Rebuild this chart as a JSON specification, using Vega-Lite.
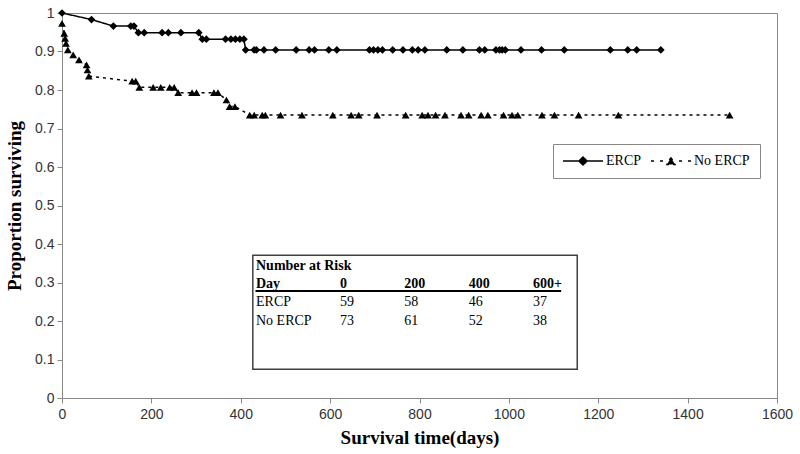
{
  "$schema": "https://vega.github.io/schema/vega-lite/v6.json",
  "width": 715,
  "height": 385,
  "autosize": {"type": "none"},
  "padding": {"left": 62, "top": 13, "right": 23, "bottom": 56},
  "background": "white",
  "config": {
    "font": "Liberation Sans",
    "view": {"stroke": "#888888", "strokeWidth": 1},
    "axisX": {
      "grid": false,
      "domainColor": "#888888",
      "tickColor": "#888888",
      "tickSize": 5,
      "labelFont": "Liberation Sans",
      "labelFontSize": 14,
      "labelColor": "#333333",
      "labelPadding": 4,
      "labelFlush": false,
      "labelOverlap": false,
      "titleFont": "Liberation Serif",
      "titleFontSize": 19,
      "titleFontWeight": "bold",
      "titleColor": "black",
      "titlePadding": 7
    },
    "axisY": {
      "grid": false,
      "domainColor": "#888888",
      "tickColor": "#888888",
      "tickSize": 5,
      "labelFont": "Liberation Sans",
      "labelFontSize": 14,
      "labelColor": "#333333",
      "labelPadding": 3,
      "labelFlush": false,
      "labelOverlap": false,
      "titleFont": "Liberation Serif",
      "titleFontSize": 19,
      "titleFontWeight": "bold",
      "titleColor": "black",
      "titlePadding": 10
    }
  },
  "datasets": {
    "km": [
      {"group": "ERCP", "day": 0, "surv": 1},
      {"group": "ERCP", "day": 66, "surv": 0.983},
      {"group": "ERCP", "day": 115, "surv": 0.966},
      {"group": "ERCP", "day": 154, "surv": 0.966},
      {"group": "ERCP", "day": 161, "surv": 0.966},
      {"group": "ERCP", "day": 171, "surv": 0.949},
      {"group": "ERCP", "day": 184, "surv": 0.949},
      {"group": "ERCP", "day": 224, "surv": 0.949},
      {"group": "ERCP", "day": 238, "surv": 0.949},
      {"group": "ERCP", "day": 266, "surv": 0.949},
      {"group": "ERCP", "day": 306, "surv": 0.949},
      {"group": "ERCP", "day": 314, "surv": 0.932},
      {"group": "ERCP", "day": 323, "surv": 0.932},
      {"group": "ERCP", "day": 366, "surv": 0.932},
      {"group": "ERCP", "day": 378, "surv": 0.932},
      {"group": "ERCP", "day": 388, "surv": 0.932},
      {"group": "ERCP", "day": 398, "surv": 0.932},
      {"group": "ERCP", "day": 407, "surv": 0.932},
      {"group": "ERCP", "day": 411, "surv": 0.904},
      {"group": "ERCP", "day": 430, "surv": 0.904},
      {"group": "ERCP", "day": 435, "surv": 0.904},
      {"group": "ERCP", "day": 452, "surv": 0.904},
      {"group": "ERCP", "day": 478, "surv": 0.904},
      {"group": "ERCP", "day": 524, "surv": 0.904},
      {"group": "ERCP", "day": 553, "surv": 0.904},
      {"group": "ERCP", "day": 565, "surv": 0.904},
      {"group": "ERCP", "day": 597, "surv": 0.904},
      {"group": "ERCP", "day": 615, "surv": 0.904},
      {"group": "ERCP", "day": 688, "surv": 0.904},
      {"group": "ERCP", "day": 697, "surv": 0.904},
      {"group": "ERCP", "day": 707, "surv": 0.904},
      {"group": "ERCP", "day": 717, "surv": 0.904},
      {"group": "ERCP", "day": 740, "surv": 0.904},
      {"group": "ERCP", "day": 763, "surv": 0.904},
      {"group": "ERCP", "day": 784, "surv": 0.904},
      {"group": "ERCP", "day": 797, "surv": 0.904},
      {"group": "ERCP", "day": 812, "surv": 0.904},
      {"group": "ERCP", "day": 861, "surv": 0.904},
      {"group": "ERCP", "day": 897, "surv": 0.904},
      {"group": "ERCP", "day": 934, "surv": 0.904},
      {"group": "ERCP", "day": 946, "surv": 0.904},
      {"group": "ERCP", "day": 971, "surv": 0.904},
      {"group": "ERCP", "day": 979, "surv": 0.904},
      {"group": "ERCP", "day": 985, "surv": 0.904},
      {"group": "ERCP", "day": 992, "surv": 0.904},
      {"group": "ERCP", "day": 1027, "surv": 0.904},
      {"group": "ERCP", "day": 1073, "surv": 0.904},
      {"group": "ERCP", "day": 1124, "surv": 0.904},
      {"group": "ERCP", "day": 1227, "surv": 0.904},
      {"group": "ERCP", "day": 1266, "surv": 0.904},
      {"group": "ERCP", "day": 1286, "surv": 0.904},
      {"group": "ERCP", "day": 1340, "surv": 0.904},
      {"group": "No ERCP", "day": 0, "surv": 0.973},
      {"group": "No ERCP", "day": 5, "surv": 0.947},
      {"group": "No ERCP", "day": 7, "surv": 0.934},
      {"group": "No ERCP", "day": 9, "surv": 0.921},
      {"group": "No ERCP", "day": 13, "surv": 0.904},
      {"group": "No ERCP", "day": 25, "surv": 0.891},
      {"group": "No ERCP", "day": 38, "surv": 0.878},
      {"group": "No ERCP", "day": 55, "surv": 0.865},
      {"group": "No ERCP", "day": 57, "surv": 0.852},
      {"group": "No ERCP", "day": 60, "surv": 0.836},
      {"group": "No ERCP", "day": 157, "surv": 0.823},
      {"group": "No ERCP", "day": 165, "surv": 0.823},
      {"group": "No ERCP", "day": 173, "surv": 0.807},
      {"group": "No ERCP", "day": 204, "surv": 0.807},
      {"group": "No ERCP", "day": 221, "surv": 0.807},
      {"group": "No ERCP", "day": 241, "surv": 0.807},
      {"group": "No ERCP", "day": 251, "surv": 0.807},
      {"group": "No ERCP", "day": 260, "surv": 0.793},
      {"group": "No ERCP", "day": 291, "surv": 0.793},
      {"group": "No ERCP", "day": 301, "surv": 0.793},
      {"group": "No ERCP", "day": 340, "surv": 0.793},
      {"group": "No ERCP", "day": 349, "surv": 0.793},
      {"group": "No ERCP", "day": 368, "surv": 0.774},
      {"group": "No ERCP", "day": 375, "surv": 0.757},
      {"group": "No ERCP", "day": 387, "surv": 0.757},
      {"group": "No ERCP", "day": 420, "surv": 0.735},
      {"group": "No ERCP", "day": 430, "surv": 0.735},
      {"group": "No ERCP", "day": 448, "surv": 0.735},
      {"group": "No ERCP", "day": 455, "surv": 0.735},
      {"group": "No ERCP", "day": 489, "surv": 0.735},
      {"group": "No ERCP", "day": 537, "surv": 0.735},
      {"group": "No ERCP", "day": 606, "surv": 0.735},
      {"group": "No ERCP", "day": 647, "surv": 0.735},
      {"group": "No ERCP", "day": 664, "surv": 0.735},
      {"group": "No ERCP", "day": 705, "surv": 0.735},
      {"group": "No ERCP", "day": 769, "surv": 0.735},
      {"group": "No ERCP", "day": 806, "surv": 0.735},
      {"group": "No ERCP", "day": 819, "surv": 0.735},
      {"group": "No ERCP", "day": 836, "surv": 0.735},
      {"group": "No ERCP", "day": 857, "surv": 0.735},
      {"group": "No ERCP", "day": 893, "surv": 0.735},
      {"group": "No ERCP", "day": 910, "surv": 0.735},
      {"group": "No ERCP", "day": 938, "surv": 0.735},
      {"group": "No ERCP", "day": 953, "surv": 0.735},
      {"group": "No ERCP", "day": 988, "surv": 0.735},
      {"group": "No ERCP", "day": 1007, "surv": 0.735},
      {"group": "No ERCP", "day": 1020, "surv": 0.735},
      {"group": "No ERCP", "day": 1074, "surv": 0.735},
      {"group": "No ERCP", "day": 1102, "surv": 0.735},
      {"group": "No ERCP", "day": 1156, "surv": 0.735},
      {"group": "No ERCP", "day": 1245, "surv": 0.735},
      {"group": "No ERCP", "day": 1494, "surv": 0.735}
    ],
    "table": [
      {"r": "title", "c": "label", "t": "Number at Risk"},
      {"r": "head", "c": "label", "t": "Day"},
      {"r": "head", "c": "0", "t": "0"},
      {"r": "head", "c": "200", "t": "200"},
      {"r": "head", "c": "400", "t": "400"},
      {"r": "head", "c": "600", "t": "600+"},
      {"r": "ERCP", "c": "label", "t": "ERCP"},
      {"r": "ERCP", "c": "0", "t": "59"},
      {"r": "ERCP", "c": "200", "t": "58"},
      {"r": "ERCP", "c": "400", "t": "46"},
      {"r": "ERCP", "c": "600", "t": "37"},
      {"r": "No ERCP", "c": "label", "t": "No ERCP"},
      {"r": "No ERCP", "c": "0", "t": "73"},
      {"r": "No ERCP", "c": "200", "t": "61"},
      {"r": "No ERCP", "c": "400", "t": "52"},
      {"r": "No ERCP", "c": "600", "t": "38"}
    ]
  },
  "layer": [
    {
      "layer": [
        {
          "data": {"values": [{}]},
          "mark": {"type": "rect", "filled": false, "stroke": "#404040", "strokeWidth": 1.5},
          "encoding": {
            "x": {"datum": 427, "type": "quantitative", "title": "Survival time(days)", "scale": {"domain": [0, 1600], "nice": false, "zero": false}, "axis": {"values": [0, 200, 400, 600, 800, 1000, 1200, 1400, 1600], "format": "d"}},
            "x2": {"datum": 1153},
            "y": {"datum": 0.371, "type": "quantitative", "title": "Proportion surviving", "scale": {"domain": [0, 1], "nice": false}, "axis": {"values": [0, 0.1, 0.2, 0.3, 0.4, 0.5, 0.6, 0.7, 0.8, 0.9, 1], "format": "~g"}},
            "y2": {"datum": 0.075}
          }
        },
        {
          "data": {"values": [{}]},
          "mark": {"type": "rule", "stroke": "black", "strokeWidth": 2},
          "encoding": {
            "x": {"datum": 433, "type": "quantitative", "title": "Survival time(days)", "axis": {"values": [0, 200, 400, 600, 800, 1000, 1200, 1400, 1600], "format": "d"}},
            "x2": {"datum": 1117},
            "y": {"datum": 0.278, "type": "quantitative", "title": "Proportion surviving", "axis": {"values": [0, 0.1, 0.2, 0.3, 0.4, 0.5, 0.6, 0.7, 0.8, 0.9, 1], "format": "~g"}}
          }
        },
        {
          "data": {"name": "km"},
          "mark": {"type": "line", "color": "black", "strokeWidth": 1.5},
          "encoding": {
            "x": {"field": "day", "type": "quantitative", "title": "Survival time(days)", "axis": {"values": [0, 200, 400, 600, 800, 1000, 1200, 1400, 1600], "format": "d"}},
            "y": {"field": "surv", "type": "quantitative", "title": "Proportion surviving", "axis": {"values": [0, 0.1, 0.2, 0.3, 0.4, 0.5, 0.6, 0.7, 0.8, 0.9, 1], "format": "~g"}},
            "strokeDash": {
              "field": "group", "type": "nominal",
              "scale": {"domain": ["ERCP", "No ERCP"], "range": [[1, 0], [3, 4]]},
              "legend": {
                "title": null,
                "orient": "none",
                "legendX": 491,
                "legendY": 131,
                "direction": "horizontal",
                "strokeColor": "#888888",
                "fillColor": "white",
                "padding": 10,
                "labelFont": "Liberation Serif",
                "labelFontSize": 14,
                "labelColor": "black",
                "symbolSize": 100,
                "symbolStrokeWidth": 1.5,
                "symbolStrokeColor": "black",
                "symbolFillColor": "black",
                "symbolOffset": 13,
                "labelOffset": 16,
                "columnPadding": 6,
                "encode": {
                  "symbols": {
                    "update": {
                      "shape": {"signal": "datum.value === 'ERCP' ? 'M-4,0H4M0,-0.8L0.8,0L0,0.8L-0.8,0Z' : 'M-4,0H-3.4M-2.2,0H-1.6M1.6,0H2.2M3.4,0H4M0,-0.7L0.8,0.7L-0.8,0.7Z'"},
                      "strokeDash": {"value": [1, 0]},
                      "fill": {"value": "black"},
                      "stroke": {"value": "black"}
                    }
                  }
                }
              }
            },
            "order": {"field": "day", "type": "quantitative"}
          }
        },
        {
          "data": {"name": "km"},
          "transform": [{"filter": "datum.group === 'ERCP'"}],
          "mark": {"type": "point", "shape": "diamond", "filled": true, "color": "black", "size": 60, "opacity": 1},
          "encoding": {
            "x": {"field": "day", "type": "quantitative", "title": "Survival time(days)", "axis": {"values": [0, 200, 400, 600, 800, 1000, 1200, 1400, 1600], "format": "d"}},
            "y": {"field": "surv", "type": "quantitative", "title": "Proportion surviving", "axis": {"values": [0, 0.1, 0.2, 0.3, 0.4, 0.5, 0.6, 0.7, 0.8, 0.9, 1], "format": "~g"}}
          }
        },
        {
          "data": {"name": "km"},
          "transform": [{"filter": "datum.group === 'No ERCP'"}],
          "mark": {"type": "point", "shape": "triangle-up", "filled": true, "color": "black", "size": 60, "opacity": 1},
          "encoding": {
            "x": {"field": "day", "type": "quantitative", "title": "Survival time(days)", "axis": {"values": [0, 200, 400, 600, 800, 1000, 1200, 1400, 1600], "format": "d"}},
            "y": {"field": "surv", "type": "quantitative", "title": "Proportion surviving", "axis": {"values": [0, 0.1, 0.2, 0.3, 0.4, 0.5, 0.6, 0.7, 0.8, 0.9, 1], "format": "~g"}}
          }
        }
      ]
    },
    {
      "data": {"name": "table"},
      "encoding": {
        "y": {
          "field": "r", "type": "nominal",
          "scale": {"type": "point", "domain": ["title", "head", "ERCP", "No ERCP"], "range": [253, 307.5], "padding": 0},
          "axis": null
        },
        "text": {"field": "t", "type": "nominal"}
      },
      "layer": [
        {
          "transform": [{"filter": "datum.c === 'label'"}],
          "encoding": {
            "x": {
              "field": "c", "type": "nominal",
              "scale": {"type": "point", "domain": ["label"], "range": [194, 194], "padding": 0},
              "axis": null
            }
          },
          "layer": [
            {
              "transform": [{"filter": "datum.r === 'title' || datum.r === 'head'"}],
              "mark": {"type": "text", "align": "left", "baseline": "middle", "font": "Liberation Serif", "fontSize": 14, "fontWeight": "bold", "color": "black"}
            },
            {
              "transform": [{"filter": "datum.r === 'ERCP' || datum.r === 'No ERCP'"}],
              "mark": {"type": "text", "align": "left", "baseline": "middle", "font": "Liberation Serif", "fontSize": 14, "color": "black"}
            }
          ]
        },
        {
          "transform": [{"filter": "datum.c !== 'label'"}],
          "encoding": {
            "x": {
              "field": "c", "type": "nominal",
              "scale": {"type": "point", "domain": ["0", "200", "400", "600"], "range": [278, 471], "padding": 0},
              "axis": null
            }
          },
          "layer": [
            {
              "transform": [{"filter": "datum.r === 'head'"}],
              "mark": {"type": "text", "align": "left", "baseline": "middle", "font": "Liberation Serif", "fontSize": 14, "fontWeight": "bold", "color": "black"}
            },
            {
              "transform": [{"filter": "datum.r === 'ERCP' || datum.r === 'No ERCP'"}],
              "mark": {"type": "text", "align": "left", "baseline": "middle", "font": "Liberation Serif", "fontSize": 14, "color": "black"}
            }
          ]
        }
      ],
      "resolve": {"scale": {"x": "independent"}}
    }
  ],
  "resolve": {"scale": {"x": "independent", "y": "independent"}}
}
